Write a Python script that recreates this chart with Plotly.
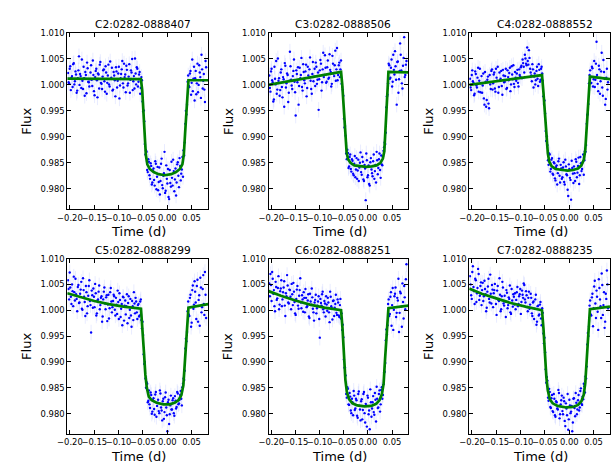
import plotly.graph_objects as go

# ---------------- data ----------------
TIME = [
    -0.2040, -0.2016, -0.1993, -0.1969, -0.1945, -0.1921, -0.1898, -0.1874, -0.1850, -0.1826,
    -0.1803, -0.1779, -0.1755, -0.1731, -0.1708, -0.1684, -0.1660, -0.1636, -0.1613, -0.1589,
    -0.1565, -0.1541, -0.1518, -0.1494, -0.1470, -0.1446, -0.1423, -0.1399, -0.1375, -0.1351,
    -0.1328, -0.1304, -0.1280, -0.1256, -0.1233, -0.1209, -0.1185, -0.1161, -0.1138, -0.1114,
    -0.1090, -0.1066, -0.1043, -0.1019, -0.0995, -0.0971, -0.0948, -0.0924, -0.0900, -0.0876,
    -0.0853, -0.0829, -0.0805, -0.0781, -0.0758, -0.0734, -0.0710, -0.0686, -0.0663, -0.0639,
    -0.0615, -0.0591, -0.0568, -0.0544, -0.0520, -0.0496, -0.0473, -0.0449, -0.0425, -0.0401,
    -0.0378, -0.0354, -0.0330, -0.0306, -0.0283, -0.0259, -0.0235, -0.0211, -0.0188, -0.0164,
    -0.0140, -0.0116, -0.0093, -0.0069, -0.0045, -0.0021, 0.0002, 0.0026, 0.0050, 0.0074,
    0.0097, 0.0121, 0.0145, 0.0169, 0.0192, 0.0216, 0.0240, 0.0264, 0.0287, 0.0311,
    0.0335, 0.0359, 0.0382, 0.0406, 0.0430, 0.0454, 0.0477, 0.0501, 0.0525, 0.0549,
    0.0572, 0.0596, 0.0620, 0.0644, 0.0667, 0.0691, 0.0715, 0.0739, 0.0762, 0.0786,
]
TIME_B = [
    -0.2028, -0.2004, -0.1981, -0.1957, -0.1933, -0.1909, -0.1886, -0.1862, -0.1838, -0.1814,
    -0.1791, -0.1767, -0.1743, -0.1719, -0.1696, -0.1672, -0.1648, -0.1624, -0.1601, -0.1577,
    -0.1553, -0.1529, -0.1506, -0.1482, -0.1458, -0.1434, -0.1411, -0.1387, -0.1363, -0.1339,
    -0.1316, -0.1292, -0.1268, -0.1244, -0.1221, -0.1197, -0.1173, -0.1149, -0.1126, -0.1102,
    -0.1078, -0.1054, -0.1031, -0.1007, -0.0983, -0.0959, -0.0936, -0.0912, -0.0888, -0.0864,
    -0.0841, -0.0817, -0.0793, -0.0769, -0.0746, -0.0722, -0.0698, -0.0674, -0.0651, -0.0627,
    -0.0603, -0.0579, -0.0556, -0.0532, -0.0508, -0.0484, -0.0461, -0.0437, -0.0413, -0.0389,
    -0.0366, -0.0342, -0.0318, -0.0294, -0.0271, -0.0247, -0.0223, -0.0199, -0.0176, -0.0152,
    -0.0128, -0.0104, -0.0081, -0.0057, -0.0033, -0.0009, 0.0014, 0.0038, 0.0062, 0.0086,
    0.0109, 0.0133, 0.0157, 0.0181, 0.0204, 0.0228, 0.0252, 0.0276, 0.0299, 0.0323,
    0.0347, 0.0371, 0.0394, 0.0418, 0.0442, 0.0466, 0.0489, 0.0513, 0.0537, 0.0561,
    0.0584, 0.0608, 0.0632, 0.0656, 0.0679, 0.0703, 0.0727, 0.0751, 0.0774, 0.0798,
]

FLUX_C2 = [
    1.0023, 1.0003, 1.0036, 1.0014, 0.9996, 1.0042, 1.0007, 1.0020, 0.9989, 1.0028,
    1.0000, 1.0017, 1.0049, 0.9992, 1.0013, 1.0025, 0.9984, 1.0032, 1.0005, 1.0011,
    1.0038, 0.9998, 1.0019, 0.9980, 1.0027, 1.0009, 1.0022, 0.9993, 1.0044, 1.0002,
    1.0016, 1.0030, 0.9987, 1.0024, 1.0004, 1.0039, 0.9997, 1.0012, 1.0033, 0.9991,
    1.0018, 0.9978, 1.0026, 1.0008, 1.0035, 0.9999, 1.0021, 1.0046, 0.9995, 1.0015,
    0.9986, 1.0029, 1.0003, 1.0040, 1.0010, 1.0024, 0.9990, 1.0017, 1.0051, 1.0001,
    1.0031, 1.0006, 1.0025, 0.9994, 1.0009, 0.9949, 0.9930, 0.9866, 0.9871, 0.9832,
    0.9852, 0.9819, 0.9844, 0.9812, 0.9839, 0.9806, 0.9848, 0.9823, 0.9797, 0.9841,
    0.9815, 0.9858, 0.9801, 0.9830, 0.9792, 0.9845, 0.9810, 0.9784, 0.9836, 0.9804,
    0.9821, 0.9856, 0.9795, 0.9839, 0.9812, 0.9851, 0.9803, 0.9844, 0.9829, 0.9861,
    0.9874, 0.9889, 0.9950, 0.9962, 1.0018, 0.9996, 1.0027, 1.0004, 0.9988, 1.0035,
    1.0013, 0.9982, 1.0041, 1.0000, 1.0024, 0.9975, 1.0030, 1.0008, 0.9991, 1.0046,
]
FLUX_C2_B = [
    1.0005, 1.0031, 0.9990, 1.0017, 1.0040, 1.0001, 1.0026, 0.9985, 1.0013, 1.0055,
    1.0021, 0.9994, 1.0008, 1.0035, 0.9979, 1.0019, 1.0043, 1.0006, 0.9997, 1.0024,
    1.0010, 1.0047, 0.9988, 1.0015, 1.0031, 0.9976, 1.0020, 1.0039, 1.0004, 0.9992,
    1.0028, 1.0007, 1.0036, 0.9983, 1.0018, 1.0001, 1.0045, 1.0014, 0.9989, 1.0025,
    1.0009, 1.0034, 0.9995, 1.0022, 0.9974, 1.0013, 1.0030, 1.0003, 1.0041, 1.0020,
    1.0037, 0.9999, 1.0016, 0.9985, 1.0028, 1.0050, 1.0007, 0.9993, 1.0022, 1.0034,
    0.9997, 1.0020, 0.9983, 1.0015, 0.9968, 0.9951, 0.9886, 0.9874, 0.9836, 0.9857,
    0.9826, 0.9849, 0.9808, 0.9835, 0.9817, 0.9853, 0.9799, 0.9842, 0.9813, 0.9789,
    0.9848, 0.9807, 0.9825, 0.9871, 0.9796, 0.9819, 0.9838, 0.9780, 0.9811, 0.9852,
    0.9806, 0.9834, 0.9818, 0.9787, 0.9847, 0.9825, 0.9859, 0.9816, 0.9837, 0.9823,
    0.9864, 0.9925, 0.9943, 1.0006, 0.9998, 1.0022, 0.9981, 1.0049, 1.0012, 0.9970,
    1.0027, 1.0003, 0.9986, 1.0038, 1.0015, 1.0058, 0.9993, 1.0021, 0.9967, 1.0034,
]
FLUX_C3 = [
    1.0018, 0.9987, 1.0031, 1.0005, 0.9972, 1.0012, 1.0046, 0.9991, 1.0008, 0.9979,
    1.0024, 0.9996, 1.0015, 0.9958, 1.0037, 1.0003, 1.0019, 0.9985, 1.0064, 1.0010,
    0.9992, 1.0027, 1.0006, 0.9941, 1.0021, 1.0034, 0.9998, 1.0013, 1.0052, 0.9989,
    1.0025, 1.0003, 1.0039, 0.9994, 1.0018, 1.0030, 1.0008, 0.9983, 1.0044, 1.0016,
    0.9998, 1.0035, 1.0010, 0.9952, 1.0028, 1.0041, 1.0005, 1.0062, 1.0019, 1.0033,
    1.0006, 1.0047, 1.0014, 1.0029, 0.9997, 1.0056, 1.0022, 1.0038, 1.0008, 1.0071,
    1.0019, 1.0043, 1.0030, 1.0002, 0.9991, 0.9935, 0.9921, 0.9868, 0.9875, 0.9840,
    0.9861, 0.9838, 0.9857, 0.9829, 0.9848, 0.9822, 0.9859, 0.9835, 0.9815, 0.9850,
    0.9832, 0.9861, 0.9818, 0.9846, 0.9778, 0.9855, 0.9826, 0.9809, 0.9851, 0.9837,
    0.9824, 0.9866, 0.9834, 0.9812, 0.9855, 0.9840, 0.9868, 0.9821, 0.9847, 0.9862,
    0.9880, 0.9886, 0.9957, 0.9981, 1.0041, 1.0012, 1.0033, 0.9997, 1.0058, 1.0020,
    1.0036, 0.9962, 1.0045, 1.0011, 1.0080, 1.0028, 0.9993, 1.0052, 1.0015, 1.0039,
]
FLUX_C3_B = [
    0.9994, 1.0026, 1.0009, 0.9968, 1.0035, 1.0001, 0.9983, 1.0051, 1.0013, 0.9990,
    1.0030, 0.9976, 1.0011, 1.0042, 0.9995, 1.0022, 0.9967, 1.0008, 1.0036, 0.9999,
    1.0017, 1.0049, 0.9986, 1.0028, 1.0005, 0.9962, 1.0033, 1.0019, 0.9996, 1.0040,
    1.0009, 1.0026, 0.9978, 1.0035, 1.0014, 1.0053, 0.9992, 1.0021, 1.0007, 1.0031,
    1.0043, 1.0002, 1.0024, 1.0011, 1.0048, 0.9989, 1.0030, 1.0015, 1.0057, 1.0004,
    1.0034, 1.0012, 1.0059, 1.0025, 1.0002, 1.0041, 1.0017, 1.0066, 1.0030, 1.0009,
    1.0038, 1.0015, 1.0047, 0.9996, 0.9979, 0.9918, 0.9902, 0.9857, 0.9869, 0.9843,
    0.9866, 0.9833, 0.9854, 0.9826, 0.9863, 0.9837, 0.9819, 0.9856, 0.9841, 0.9870,
    0.9827, 0.9852, 0.9815, 0.9839, 0.9868, 0.9822, 0.9845, 0.9806, 0.9859, 0.9830,
    0.9853, 0.9819, 0.9846, 0.9871, 0.9828, 0.9857, 0.9836, 0.9864, 0.9845, 0.9873,
    0.9889, 0.9908, 0.9978, 1.0003, 1.0038, 1.0014, 1.0049, 1.0006, 1.0029, 1.0065,
    1.0010, 1.0044, 0.9985, 1.0027, 1.0058, 1.0003, 1.0037, 1.0092, 1.0019, 1.0046,
]
FLUX_C4 = [
    1.0012, 0.9990, 1.0028, 1.0004, 0.9983, 1.0021, 0.9995, 1.0033, 1.0008, 0.9986,
    1.0017, 0.9999, 0.9974, 1.0025, 0.9958, 1.0010, 0.9964, 1.0019, 0.9992, 1.0030,
    1.0003, 1.0024, 0.9987, 1.0014, 1.0035, 0.9996, 1.0009, 1.0027, 0.9981, 1.0018,
    1.0006, 1.0031, 0.9994, 1.0015, 1.0023, 0.9988, 1.0036, 1.0011, 1.0002, 1.0025,
    1.0008, 1.0029, 0.9997, 1.0019, 1.0034, 1.0013, 1.0042, 1.0024, 1.0051, 1.0038,
    1.0046, 1.0067, 1.0031, 1.0018, 1.0040, 0.9995, 1.0022, 1.0009, 1.0035, 0.9998,
    1.0029, 1.0010, 1.0035, 1.0008, 0.9963, 0.9945, 0.9892, 0.9884, 0.9846, 0.9866,
    0.9838, 0.9859, 0.9827, 0.9849, 0.9816, 0.9845, 0.9830, 0.9858, 0.9812, 0.9839,
    0.9822, 0.9851, 0.9808, 0.9843, 0.9826, 0.9786, 0.9838, 0.9817, 0.9854, 0.9829,
    0.9843, 0.9815, 0.9852, 0.9831, 0.9860, 0.9826, 0.9849, 0.9838, 0.9866, 0.9855,
    0.9871, 0.9925, 0.9944, 1.0003, 1.0028, 1.0004, 1.0032, 1.0011, 0.9996, 1.0041,
    1.0019, 0.9988, 1.0030, 1.0007, 1.0062, 0.9979, 1.0025, 0.9962, 1.0014, 0.9991,
]
FLUX_C4_B = [
    0.9995, 1.0019, 1.0007, 0.9980, 1.0026, 0.9999, 1.0014, 0.9987, 1.0031, 1.0003,
    0.9985, 1.0022, 0.9962, 1.0006, 0.9971, 1.0016, 0.9955, 1.0001, 1.0027, 0.9991,
    1.0020, 0.9993, 1.0031, 1.0008, 0.9985, 1.0024, 1.0012, 0.9998, 1.0029, 1.0005,
    1.0017, 0.9992, 1.0028, 1.0009, 1.0033, 1.0001, 1.0020, 1.0038, 0.9996, 1.0014,
    1.0022, 1.0004, 1.0030, 1.0016, 1.0037, 1.0049, 1.0035, 1.0058, 1.0041, 1.0072,
    1.0039, 1.0052, 1.0024, 1.0007, 1.0030, 1.0016, 1.0001, 1.0027, 1.0012, 1.0040,
    1.0006, 1.0031, 1.0022, 0.9978, 0.9970, 0.9911, 0.9901, 0.9855, 0.9868, 0.9833,
    0.9856, 0.9829, 0.9851, 0.9820, 0.9842, 0.9808, 0.9853, 0.9825, 0.9846, 0.9819,
    0.9841, 0.9813, 0.9856, 0.9828, 0.9798, 0.9847, 0.9821, 0.9779, 0.9840, 0.9811,
    0.9830, 0.9857, 0.9822, 0.9844, 0.9809, 0.9861, 0.9834, 0.9851, 0.9827, 0.9872,
    0.9884, 0.9942, 0.9963, 1.0019, 1.0003, 1.0035, 0.9997, 1.0046, 1.0010, 1.0083,
    1.0002, 1.0037, 0.9983, 1.0026, 0.9995, 1.0048, 1.0012, 0.9973, 1.0031, 1.0005,
]
FLUX_C5 = [
    1.0058, 1.0021, 1.0044, 1.0012, 1.0037, 1.0065, 1.0019, 1.0031, 0.9998, 1.0049,
    1.0015, 1.0040, 1.0003, 1.0062, 1.0026, 0.9989, 1.0035, 1.0008, 1.0047, 1.0018,
    0.9957, 1.0029, 1.0042, 1.0006, 1.0033, 0.9994, 1.0021, 1.0048, 1.0010, 1.0027,
    0.9988, 1.0036, 1.0013, 1.0025, 0.9979, 1.0030, 1.0004, 1.0043, 0.9996, 1.0018,
    1.0027, 0.9990, 1.0011, 1.0038, 0.9983, 1.0020, 1.0003, 0.9971, 1.0025, 1.0009,
    0.9992, 1.0031, 1.0014, 0.9985, 1.0022, 0.9968, 1.0008, 1.0035, 0.9994, 1.0017,
    0.9983, 1.0012, 0.9990, 1.0021, 0.9965, 0.9952, 0.9896, 0.9868, 0.9861, 0.9822,
    0.9845, 0.9811, 0.9836, 0.9804, 0.9830, 0.9798, 0.9842, 0.9815, 0.9827, 0.9801,
    0.9839, 0.9806, 0.9824, 0.9790, 0.9832, 0.9812, 0.9766, 0.9827, 0.9799, 0.9835,
    0.9808, 0.9830, 0.9796, 0.9825, 0.9813, 0.9839, 0.9820, 0.9836, 0.9829, 0.9851,
    0.9868, 0.9883, 0.9945, 0.9958, 1.0017, 0.9989, 1.0030, 0.9976, 1.0048, 1.0011,
    1.0036, 0.9983, 1.0059, 1.0020, 0.9970, 1.0044, 1.0006, 1.0068, 0.9991, 1.0030,
]
FLUX_C5_B = [
    1.0041, 1.0073, 1.0026, 1.0050, 1.0008, 1.0035, 1.0061, 1.0022, 1.0045, 1.0014,
    1.0032, 1.0055, 1.0001, 1.0039, 1.0016, 1.0047, 0.9994, 1.0028, 1.0058, 1.0010,
    1.0038, 1.0005, 1.0026, 1.0051, 0.9990, 1.0019, 1.0036, 1.0002, 1.0024, 0.9978,
    1.0021, 1.0044, 1.0002, 1.0029, 1.0011, 0.9984, 1.0035, 1.0017, 1.0006, 1.0030,
    1.0001, 1.0024, 0.9993, 1.0016, 1.0033, 0.9987, 1.0012, 1.0026, 0.9980, 1.0019,
    1.0008, 0.9975, 1.0027, 1.0001, 0.9990, 1.0018, 0.9981, 1.0013, 1.0024, 0.9996,
    1.0010, 0.9988, 1.0017, 0.9981, 0.9978, 0.9915, 0.9900, 0.9850, 0.9858, 0.9825,
    0.9818, 0.9841, 0.9800, 0.9826, 0.9809, 0.9837, 0.9794, 0.9821, 0.9805, 0.9845,
    0.9812, 0.9787, 0.9829, 0.9803, 0.9841, 0.9797, 0.9822, 0.9780, 0.9816, 0.9808,
    0.9826, 0.9801, 0.9834, 0.9810, 0.9842, 0.9818, 0.9827, 0.9844, 0.9816, 0.9858,
    0.9865, 0.9926, 0.9940, 0.9998, 0.9992, 1.0024, 0.9968, 1.0039, 1.0003, 1.0056,
    1.0015, 1.0047, 0.9978, 1.0029, 1.0063, 0.9996, 1.0041, 1.0012, 1.0074, 0.9985,
]
FLUX_C6 = [
    1.0052, 1.0070, 1.0018, 1.0061, 1.0039, 0.9998, 1.0045, 1.0023, 1.0066, 1.0011,
    1.0042, 1.0008, 1.0035, 1.0056, 0.9989, 1.0027, 1.0048, 1.0013, 1.0039, 1.0002,
    1.0031, 1.0053, 1.0016, 0.9991, 1.0040, 1.0009, 1.0028, 1.0062, 1.0004, 1.0021,
    1.0035, 0.9996, 1.0024, 1.0008, 1.0031, 0.9985, 1.0017, 1.0042, 1.0003, 0.9980,
    1.0020, 0.9994, 1.0009, 1.0027, 0.9947, 1.0014, 1.0031, 1.0002, 1.0018, 0.9988,
    1.0011, 1.0024, 0.9996, 1.0036, 1.0008, 0.9982, 1.0019, 1.0005, 1.0030, 0.9991,
    1.0015, 0.9987, 1.0022, 0.9994, 0.9972, 0.9905, 0.9889, 0.9838, 0.9851, 0.9818,
    0.9840, 0.9806, 0.9829, 0.9797, 0.9835, 0.9810, 0.9826, 0.9792, 0.9843, 0.9808,
    0.9824, 0.9789, 0.9838, 0.9801, 0.9819, 0.9775, 0.9831, 0.9806, 0.9847, 0.9794,
    0.9822, 0.9803, 0.9840, 0.9785, 0.9829, 0.9812, 0.9845, 0.9818, 0.9851, 0.9836,
    0.9879, 0.9898, 0.9963, 0.9971, 1.0021, 0.9993, 1.0035, 1.0010, 0.9962, 1.0027,
    1.0044, 0.9995, 1.0019, 0.9958, 1.0036, 1.0007, 1.0052, 0.9984, 1.0025, 1.0060,
]
FLUX_C6_B = [
    1.0027, 1.0049, 1.0074, 1.0032, 1.0008, 1.0055, 1.0020, 1.0043, 1.0002, 1.0037,
    1.0058, 1.0021, 1.0044, 1.0009, 1.0033, 1.0068, 1.0015, 1.0040, 1.0026, 1.0051,
    1.0010, 1.0036, 0.9994, 1.0022, 1.0047, 1.0003, 1.0039, 1.0015, 1.0029, 0.9997,
    1.0024, 1.0041, 1.0006, 1.0019, 0.9988, 1.0032, 1.0011, 1.0025, 0.9996, 1.0015,
    1.0030, 1.0004, 1.0017, 0.9983, 1.0022, 1.0009, 1.0036, 0.9996, 1.0013, 1.0027,
    0.9999, 1.0015, 0.9977, 1.0026, 1.0004, 1.0018, 0.9989, 1.0012, 0.9995, 1.0021,
    0.9990, 1.0010, 0.9984, 0.9962, 0.9948, 0.9889, 0.9874, 0.9831, 0.9848, 0.9817,
    0.9833, 0.9801, 0.9822, 0.9844, 0.9807, 0.9829, 0.9796, 0.9838, 0.9815, 0.9787,
    0.9828, 0.9807, 0.9842, 0.9783, 0.9816, 0.9835, 0.9799, 0.9770, 0.9822, 0.9810,
    0.9834, 0.9798, 0.9827, 0.9852, 0.9811, 0.9838, 0.9804, 0.9846, 0.9829, 0.9857,
    0.9881, 0.9942, 0.9953, 1.0012, 0.9989, 1.0026, 0.9970, 1.0043, 1.0001, 1.0032,
    0.9987, 1.0024, 1.0061, 0.9995, 1.0033, 0.9968, 1.0016, 1.0047, 1.0002, 1.0089,
]
FLUX_C7 = [
    1.0066, 1.0029, 1.0074, 1.0045, 1.0012, 1.0058, 1.0033, 1.0080, 1.0020, 1.0047,
    1.0010, 1.0053, 1.0027, 1.0041, 0.9998, 1.0036, 1.0061, 1.0015, 1.0032, 1.0049,
    1.0006, 1.0039, 1.0024, 0.9991, 1.0047, 1.0018, 1.0030, 1.0002, 1.0055, 1.0013,
    1.0028, 0.9987, 1.0034, 1.0010, 1.0022, 0.9996, 1.0041, 1.0007, 1.0026, 1.0033,
    1.0020, 1.0045, 1.0012, 1.0031, 0.9993, 1.0038, 1.0024, 1.0049, 1.0015, 1.0029,
    0.9998, 1.0036, 1.0011, 1.0024, 0.9989, 1.0017, 1.0003, 1.0030, 0.9978, 1.0009,
    0.9992, 1.0016, 0.9971, 0.9995, 0.9936, 0.9919, 0.9860, 0.9864, 0.9825, 0.9842,
    0.9811, 0.9836, 0.9803, 0.9829, 0.9794, 0.9822, 0.9808, 0.9840, 0.9799, 0.9826,
    0.9805, 0.9831, 0.9786, 0.9820, 0.9797, 0.9769, 0.9827, 0.9801, 0.9815, 0.9783,
    0.9830, 0.9795, 0.9821, 0.9808, 0.9836, 0.9812, 0.9849, 0.9817, 0.9828, 0.9853,
    0.9872, 0.9891, 0.9956, 0.9968, 1.0019, 0.9990, 1.0032, 1.0004, 1.0057, 0.9985,
    1.0026, 0.9962, 1.0043, 1.0008, 1.0071, 0.9991, 1.0035, 0.9978, 1.0022, 1.0050,
]
FLUX_C7_B = [
    1.0050, 1.0022, 1.0085, 1.0037, 1.0061, 1.0016, 1.0043, 1.0070, 1.0028, 1.0054,
    1.0039, 1.0018, 1.0057, 1.0031, 1.0005, 1.0046, 1.0022, 1.0069, 1.0013, 1.0040,
    1.0033, 1.0051, 1.0012, 1.0038, 1.0020, 1.0062, 0.9998, 1.0027, 1.0044, 1.0009,
    1.0017, 1.0039, 1.0004, 1.0025, 1.0048, 0.9993, 1.0019, 1.0031, 1.0011, 1.0002,
    1.0035, 1.0008, 1.0027, 1.0041, 1.0016, 1.0030, 1.0052, 1.0021, 1.0037, 1.0006,
    1.0024, 1.0003, 1.0032, 0.9994, 1.0015, 0.9983, 1.0021, 0.9972, 1.0008, 0.9990,
    1.0011, 0.9984, 1.0004, 0.9955, 0.9947, 0.9886, 0.9871, 0.9831, 0.9848, 0.9813,
    0.9830, 0.9805, 0.9838, 0.9797, 0.9824, 0.9810, 0.9846, 0.9791, 0.9818, 0.9835,
    0.9799, 0.9824, 0.9776, 0.9810, 0.9838, 0.9789, 0.9816, 0.9804, 0.9766, 0.9829,
    0.9811, 0.9840, 0.9799, 0.9826, 0.9806, 0.9844, 0.9819, 0.9833, 0.9858, 0.9841,
    0.9868, 0.9934, 0.9950, 1.0009, 0.9992, 1.0025, 0.9969, 1.0046, 1.0013, 1.0038,
    0.9997, 1.0060, 1.0021, 0.9985, 1.0049, 1.0010, 0.9966, 1.0032, 1.0077, 1.0004,
]

# best-fit model curves (time, flux)
MODEL_T_C2 = [-0.2055, -0.0542, -0.0515, -0.049, -0.0465, -0.044, -0.041, -0.036, -0.028, -0.018, -0.005,
              0.008, 0.018, 0.026, 0.031, 0.034, 0.0365, 0.039, 0.0415, 0.0435, 0.0838]
MODEL_F_C2 = [1.0012, 1.0011, 0.9990, 0.9950, 0.9905, 0.9865, 0.9847, 0.9838, 0.9832, 0.9828, 0.9826,
              0.9828, 0.9832, 0.9838, 0.9847, 0.9866, 0.9905, 0.9950, 0.9990, 1.0009, 1.0009]
MODEL_T_C3 = [-0.2055, -0.0555, -0.053, -0.050, -0.047, -0.044, -0.041, -0.036, -0.028, -0.016, -0.004,
              0.008, 0.018, 0.026, 0.031, 0.034, 0.0365, 0.039, 0.0415, 0.0425, 0.0838]
MODEL_F_C3 = [1.0000, 1.0025, 1.0000, 0.9955, 0.9905, 0.9870, 0.9857, 0.9850, 0.9845, 0.9843, 0.9842,
              0.9843, 0.9845, 0.9850, 0.9858, 0.9872, 0.9910, 0.9960, 1.0005, 1.0025, 1.0024]
MODEL_T_C4 = [-0.2055, -0.056, -0.053, -0.050, -0.047, -0.044, -0.041, -0.036, -0.028, -0.016, -0.003,
              0.008, 0.018, 0.025, 0.030, 0.033, 0.036, 0.039, 0.0425, 0.0838]
MODEL_F_C4 = [1.0000, 1.0019, 0.9985, 0.9940, 0.9900, 0.9868, 0.9852, 0.9843, 0.9838, 0.9836, 0.9835,
              0.9836, 0.9839, 0.9845, 0.9856, 0.9875, 0.9915, 0.9965, 1.0016, 1.0011]
MODEL_T_C5 = [-0.2055, -0.18, -0.15, -0.12, -0.09, -0.054, -0.051, -0.048, -0.045, -0.042, -0.038, -0.032,
              -0.022, -0.008, 0.005, 0.015, 0.023, 0.029, 0.033, 0.036, 0.039, 0.042, 0.0435, 0.0838]
MODEL_F_C5 = [1.0033, 1.0026, 1.0018, 1.0012, 1.0007, 1.0003, 0.9970, 0.9920, 0.9875, 0.9850, 0.9833, 0.9826,
              0.9821, 0.9818, 0.9818, 0.9821, 0.9826, 0.9836, 0.9855, 0.9895, 0.9945, 0.9990, 1.0005, 1.0012]
MODEL_T_C6 = [-0.2055, -0.18, -0.15, -0.12, -0.09, -0.0555, -0.0525, -0.0495, -0.0465, -0.0435, -0.039, -0.032,
              -0.022, -0.007, 0.007, 0.017, 0.024, 0.029, 0.0325, 0.0355, 0.039, 0.0425, 0.0838]
MODEL_F_C6 = [1.0037, 1.0028, 1.0019, 1.0011, 1.0005, 1.0000, 0.9965, 0.9915, 0.9865, 0.9842, 0.9828, 0.9820,
              0.9816, 0.9814, 0.9815, 0.9819, 0.9826, 0.9838, 0.9858, 0.9905, 0.9960, 1.0004, 1.0009]
MODEL_T_C7 = [-0.2055, -0.18, -0.15, -0.12, -0.09, -0.056, -0.053, -0.050, -0.047, -0.044, -0.040, -0.034,
              -0.024, -0.006, 0.008, 0.018, 0.025, 0.030, 0.033, 0.036, 0.039, 0.0425, 0.0838]
MODEL_F_C7 = [1.0042, 1.0032, 1.0023, 1.0014, 1.0007, 1.0000, 0.9965, 0.9915, 0.9870, 0.9845, 0.9828, 0.9820,
              0.9815, 0.9812, 0.9813, 0.9817, 0.9824, 0.9837, 0.9860, 0.9905, 0.9955, 1.0002, 1.0007]

TITLES = ["C2:0282-0888407", "C3:0282-0888506", "C4:0282-0888552",
          "C5:0282-0888299", "C6:0282-0888251", "C7:0282-0888235"]
X_TICKS = [-0.20, -0.15, -0.10, -0.05, 0.00, 0.05]
X_TICK_LABELS = ["\u22120.20", "\u22120.15", "\u22120.10", "\u22120.05", "0.00", "0.05"]
Y_TICKS = [0.980, 0.985, 0.990, 0.995, 1.000, 1.005, 1.010]
Y_TICK_LABELS = ["0.980", "0.985", "0.990", "0.995", "1.000", "1.005", "1.010"]
FLUX_ERR = 0.0015

FLUXES = [(FLUX_C2, FLUX_C2_B), (FLUX_C3, FLUX_C3_B), (FLUX_C4, FLUX_C4_B),
          (FLUX_C5, FLUX_C5_B), (FLUX_C6, FLUX_C6_B), (FLUX_C7, FLUX_C7_B)]
MODELS = [(MODEL_T_C2, MODEL_F_C2), (MODEL_T_C3, MODEL_F_C3), (MODEL_T_C4, MODEL_F_C4),
          (MODEL_T_C5, MODEL_F_C5), (MODEL_T_C6, MODEL_F_C6), (MODEL_T_C7, MODEL_F_C7)]

for fa, fb in FLUXES:
    assert len(fa) == len(TIME), len(fa)
    assert len(fb) == len(TIME_B), len(fb)
for mt, mf in MODELS:
    assert len(mt) == len(mf)

# ---------------- layout ----------------
W, H = 611, 467
COL_PX = [(58.3, 201.7), (263.3, 405.7), (467.7, 611.0)]
ROW_PX = [(28.3, 206.7), (256.3, 434.0)]
FONT = "DejaVu Sans"

fig = go.Figure()
layout = dict(
    width=W, height=H, margin=dict(l=0, r=0, t=0, b=0),
    paper_bgcolor="white", plot_bgcolor="white", showlegend=False,
    font=dict(family=FONT, color="black"),
)
annotations = []

for i in range(6):
    r, c = divmod(i, 3)
    n = "" if i == 0 else str(i + 1)
    xa, ya = "x" + n, "y" + n
    x0, x1 = COL_PX[c]
    y0, y1 = ROW_PX[r]
    fa, fb = FLUXES[i]

    fig.add_trace(go.Scatter(
        x=TIME + TIME_B, y=fa + fb, mode="markers", xaxis=xa, yaxis=ya,
        marker=dict(color="#0000ff", size=2.4, line=dict(width=0)),
        error_y=dict(type="constant", value=FLUX_ERR, color="rgba(100,120,255,0.18)",
                     thickness=0.8, width=0),
        hoverinfo="skip",
    ))
    mt, mf = MODELS[i]
    fig.add_trace(go.Scatter(
        x=mt, y=mf, mode="lines", xaxis=xa, yaxis=ya,
        line=dict(color="#008000", width=2.7), hoverinfo="skip",
    ))

    axis_common = dict(
        showline=True, linecolor="black", linewidth=1, mirror="ticks",
        ticks="inside", ticklen=4, tickwidth=1, tickcolor="black",
        showgrid=False, zeroline=False, tickangle=0,
        tickfont=dict(family=FONT, size=8.4, color="black"),
    )
    layout["xaxis" + n] = dict(
        axis_common, domain=[x0 / W, min(x1 / W, 1.0)], anchor=ya,
        range=[-0.2055, 0.0838], tickmode="array",
        tickvals=X_TICKS, ticktext=X_TICK_LABELS,
    )
    layout["yaxis" + n] = dict(
        axis_common, domain=[1 - y1 / H, 1 - y0 / H], anchor=xa,
        range=[0.976, 1.010], tickmode="array",
        tickvals=Y_TICKS, ticktext=Y_TICK_LABELS,
    )

    cx = (x0 + x1) / 2
    annotations.append(dict(
        text=TITLES[i], x=(cx + 5) / W, y=1 - (y0 - 9) / H, xref="paper", yref="paper",
        showarrow=False, xanchor="center", yanchor="middle",
        font=dict(family=FONT, size=10.6, color="black"),
    ))
    annotations.append(dict(
        text="Time (d)", x=(cx + 1) / W, y=1 - (y1 + 22) / H, xref="paper", yref="paper",
        showarrow=False, xanchor="center", yanchor="middle",
        font=dict(family=FONT, size=13, color="black"),
    ))
    annotations.append(dict(
        text="Flux", x=(x0 - 41.5) / W, y=1 - ((y0 + y1) / 2) / H, xref="paper", yref="paper",
        showarrow=False, xanchor="center", yanchor="middle", textangle=-90,
        font=dict(family=FONT, size=13, color="black"),
    ))

layout["annotations"] = annotations
fig.update_layout(**layout)
fig.write_html("out.html", config={"displayModeBar": False, "staticPlot": True},
               post_script="document.body.style.margin='0px';")
